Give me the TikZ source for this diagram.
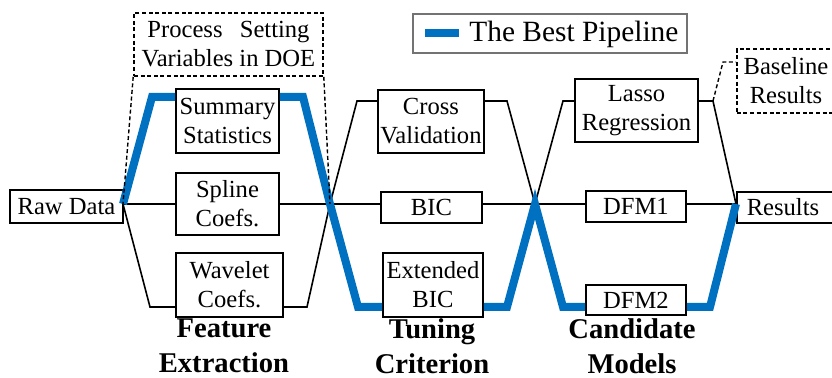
\documentclass[tikz,border=0pt]{standalone}
\usepackage{fontspec}
\setmainfont{Liberation Serif}
\begin{document}
\begin{tikzpicture}[x=0.5pt,y=-0.5pt,
  sz/.style 2 args={minimum width=#1*0.5pt, minimum height=#2*0.5pt},
  box/.style={draw, line width=0.8pt, rectangle, inner sep=0pt, align=center,
    font=\fontsize{12.3}{14.5}\selectfont},
  dbox/.style={box, dash pattern=on 2pt off 1.3pt},
  wire/.style={line width=0.8pt},
  dwire/.style={line width=0.7pt, dash pattern=on 2pt off 1.3pt},
  best/.style={line width=4pt, draw={rgb,255:red,0;green,112;blue,192}},
  stage/.style={font=\fontsize{14.3}{17.5}\selectfont\bfseries, align=center, inner sep=0pt}]
\useasboundingbox (0,0) rectangle (832,378);
\clip (0,0) rectangle (832,378);

% feature extraction
\node[box, sz={113}{33}] (raw) at (66.5,206.5) {Raw Data};
\node[box, sz={103}{64}] (summ) at (227.5,121) {Summary\\Statistics};
\node[box, sz={103}{62}] (spline) at (227.5,204) {Spline\\Coefs.};
\node[box, sz={107}{64}] (wave) at (229.5,285) {Wavelet\\Coefs.};
\node[dbox, sz={189}{63}] (doe) at (228.5,44.5)
  {Process\hspace{0.7em}Setting\\Variables in DOE};

% tuning criterion
\node[box, sz={106}{63}] (cv) at (431,121.5) {Cross\\Validation};
\node[box, sz={101}{31}] (bic) at (431.5,207.5) {BIC};
\node[box, sz={100}{64}] (ebic) at (433,285) {Extended\\BIC};

% candidate models
\node[box, sz={123}{63}] (lasso) at (636.5,110.5) {Lasso\\Regression};
\node[box, sz={100}{31}] (dfm1) at (636,206.5) {DFM1};
\node[box, sz={100}{30}] (dfm2) at (636,300) {DFM2};

% outputs (running past the right edge)
\node[dbox, sz={120}{64}, anchor=west] (base) at (736,81) {};
\node[font=\fontsize{12.3}{14.5}\selectfont, align=center, inner sep=0pt] (baset) at (786,81) {Baseline\\Results};
\node[box, sz={120}{31}, anchor=west] (res) at (736,207.5) {};
\node[font=\fontsize{12.3}{14.5}\selectfont, inner sep=0pt] (rest) at (783,207.5) {Results};

% stage captions
\node[stage] (fe) at (224,346) {Feature\\Extraction};
\node[stage] (tc) at (432,346) {Tuning\\Criterion};
\node[stage] (cm) at (632,346) {Candidate\\Models};

% legend
\node[draw=black!55, line width=0.8pt, sz={274}{39}] (leg) at (550,33.5) {};
\coordinate (lg1) at (425,33);
\coordinate (lg2) at (459,33);
\node[font=\fontsize{14.7}{17}\selectfont, anchor=west, inner sep=0pt] (legt) at (469,34) {The Best Pipeline};

% junctions
\coordinate (j1) at (123,204);
\coordinate (j2) at (330,204);
\coordinate (j3) at (535,204);
\coordinate (j4) at (736,204);

% black connectors
\draw[wire] (j1) -- (spline.west |- j1);
\draw[wire] (j1) -- (150,307) -- (wave.west |- 0,307);
\draw[wire] (spline.east |- j2) -- (j2);
\draw[wire] (wave.east |- 0,307) -- (307,307) -- (j2);
\draw[wire] (j2) -- (357,101) -- (cv.west |- 0,101);
\draw[wire] (j2) -- (bic.west |- j2);
\draw[wire] (cv.east |- 0,101) -- (507,101) -- (j3);
\draw[wire] (bic.east |- j3) -- (j3);
\draw[wire] (j3) -- (563,101) -- (lasso.west |- 0,101);
\draw[wire] (j3) -- (dfm1.west |- j3);
\draw[wire] (lasso.east |- 0,101) -- (713,101) -- (j4);
\draw[wire] (dfm1.east |- j4) -- (j4);

% the best pipeline
\draw[best] (j1) -- (152,97) -- (summ.west |- 0,97);
\draw[best] (summ.east |- 0,97) -- (303,97) -- (j2) -- (358,307) -- (ebic.west |- 0,307);
\draw[best] (ebic.east |- 0,307) -- (507,307) -- (j3) -- (563,307) -- (dfm2.west |- 0,307);
\draw[best] (dfm2.east |- 0,307) -- (710,307) -- (j4);
\draw[best] (lg1) -- (lg2);

% dashed links
\draw[dwire] (doe.south west) -- (j1);
\draw[dwire] (doe.south east) -- (j2);
\draw[dwire] (713,101) -- (723,62) -- (base.west |- 0,62);
\end{tikzpicture}
\end{document}
